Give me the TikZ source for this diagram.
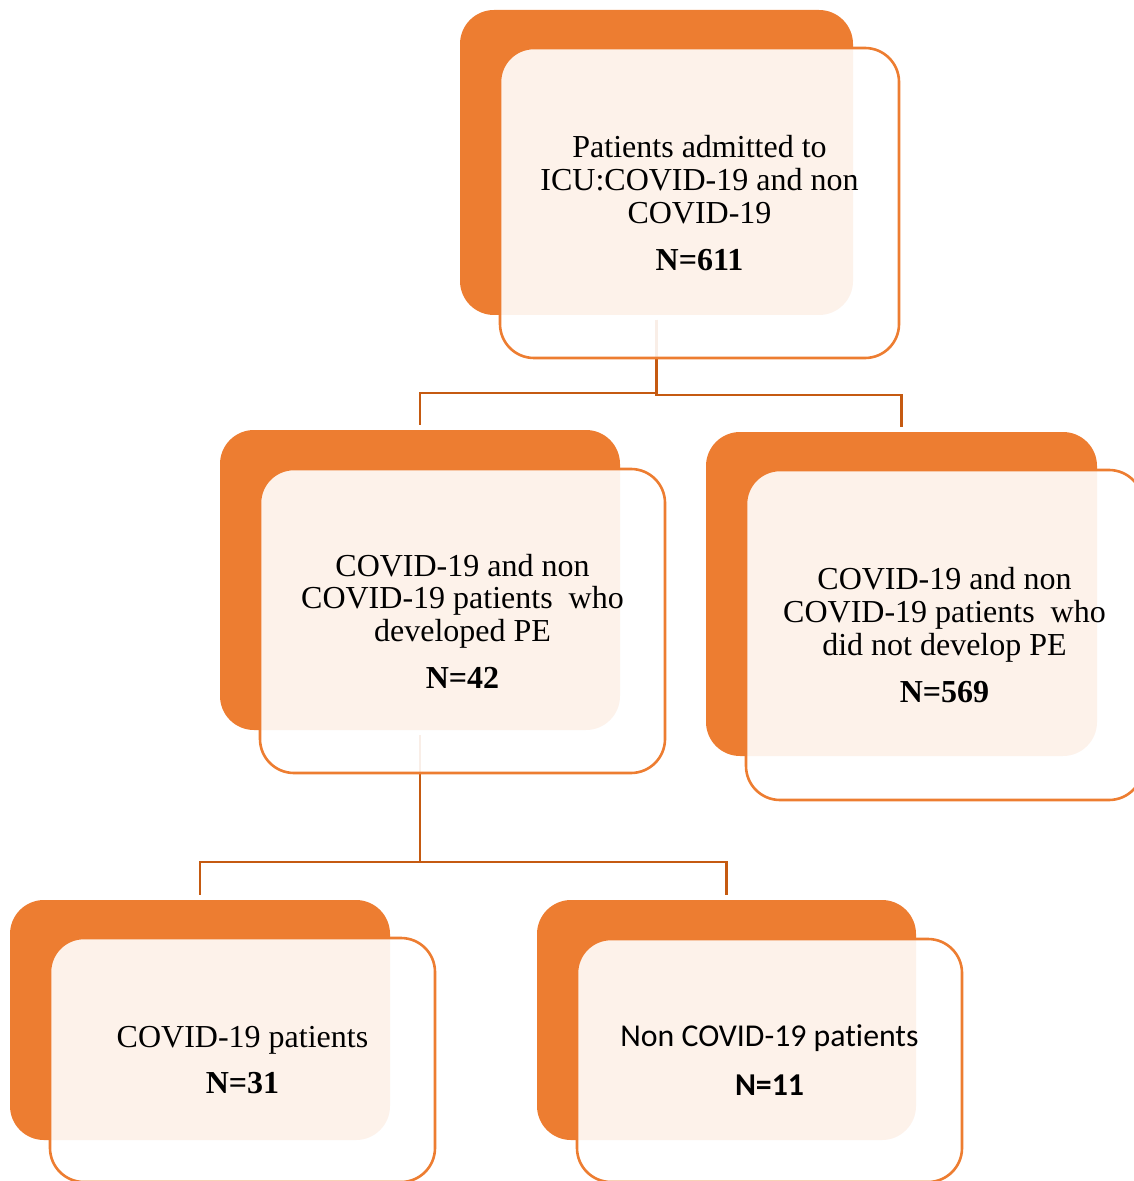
\documentclass[tikz,border=0pt]{standalone}
\usepackage{fontspec}
\setmainfont{Liberation Serif}
\newfontfamily\calibrifont[Ligatures=NoCommon]{Carlito}
\definecolor{boxorange}{HTML}{ED7D31}
\definecolor{linkbrown}{HTML}{C55A11}
\tikzset{
  backbox/.style={fill=boxorange, rounded corners=17pt, outer sep=2.5pt, inner sep=0pt},
  frontbox/.style={draw=boxorange, line width=1.3pt, fill=white, fill opacity=0.9,
    text opacity=1, rounded corners=17pt, align=center,
    font=\fontsize{16}{16.3}\selectfont},
  link/.style={draw=linkbrown, line width=1.2pt},
}

\begin{document}
\begin{tikzpicture}[x=0.5pt, y=-0.5pt]
  \useasboundingbox (0,0) rectangle (1133,1181);

  % Back boxes
  \node[backbox, minimum width=196.5pt, minimum height=152.5pt] (bA) at (656.5,162.5) {};
  \node[backbox, minimum width=200pt, minimum height=150pt] (bB) at (420,580) {};
  \node[backbox, minimum width=195.5pt, minimum height=162pt] (bC) at (901.5,594) {};
  \node[backbox, minimum width=190pt, minimum height=120pt] (bD) at (200,1020) {};
  \node[backbox, minimum width=189.5pt, minimum height=120pt] (bE) at (726.5,1020) {};

  % Connectors
  \draw[link] (bA.south) -- ++(0,73) -| (bB.north);
  \draw[link] (bA.south) -- ++(0,75) -| (bC.north);
  \draw[link] (bB.south) -- ++(0,127) -| (bD.north);
  \draw[link] (bB.south) -- ++(0,127) -| (bE.north);

  % Front boxes
  \node[frontbox, minimum width=199.5pt, minimum height=155pt] (fA) at ([shift={(43,40.5)}]bA.center)
    {Patients admitted to\\ICU:COVID-19 and non\\COVID-19\\[7.2pt]\textbf{N=611}};
  \node[frontbox, minimum width=202.5pt, minimum height=152pt] (fB) at ([shift={(42.5,41)}]bB.center)
    {COVID-19 and non\\COVID-19 patients~ who\\developed PE\\[7.2pt]\textbf{N=42}};
  \node[frontbox, minimum width=198.5pt, minimum height=165pt] (fC) at ([shift={(43,41)}]bC.center)
    {COVID-19 and non\\COVID-19 patients~ who\\did not develop PE\\[7.2pt]\textbf{N=569}};
  \node[frontbox, minimum width=192.5pt, minimum height=122pt] (fD) at ([shift={(42.5,40)}]bD.center)
    {COVID-19 patients\\[6.8pt]\textbf{N=31}};
  \node[frontbox, minimum width=192.5pt, minimum height=121.5pt, font=\calibrifont\fontsize{15.9}{16}\selectfont]
    (fE) at ([shift={(43,40.5)}]bE.center)
    {Non COVID-19 patients\\[8.5pt]\textbf{N=11}};
\end{tikzpicture}
\end{document}
